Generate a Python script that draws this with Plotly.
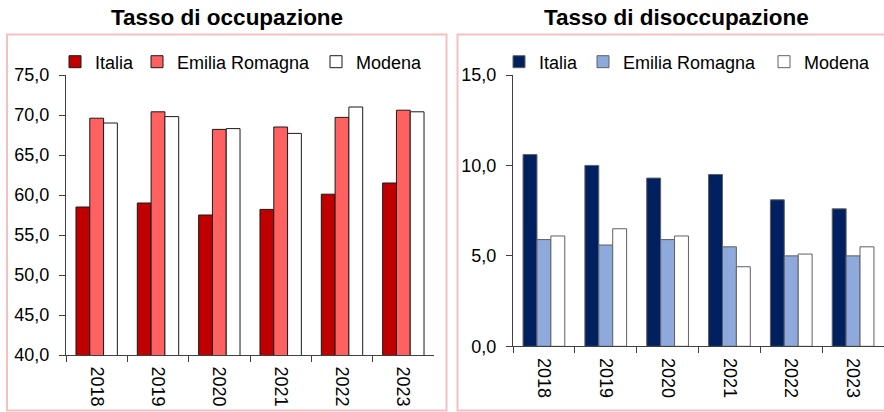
import plotly.graph_objects as go

years = ["2018", "2019", "2020", "2021", "2022", "2023"]
series_names = ["Italia", "Emilia Romagna", "Modena"]

occ_italia = [58.5, 59.0, 57.5, 58.2, 60.1, 61.5]
occ_emilia = [69.6, 70.4, 68.2, 68.5, 69.7, 70.6]
occ_modena = [69.0, 69.8, 68.3, 67.7, 71.0, 70.4]

dis_italia = [10.6, 10.0, 9.3, 9.5, 8.1, 7.6]
dis_emilia = [5.9, 5.6, 5.9, 5.5, 5.0, 5.0]
dis_modena = [6.1, 6.5, 6.1, 4.4, 5.1, 5.5]

title_left = "Tasso di occupazione"
title_right = "Tasso di disoccupazione"

W, H = 884, 412
FONT = "Liberation Sans, Arial, sans-serif"

def px(x):
    return x / W

def py(y):
    return 1 - y / H

left_colors = ["#C00000", "#FF6161", "#FFFFFF"]
right_colors = ["#002060", "#8EA9DB", "#FFFFFF"]
left_lw = [37, 134, 60]
right_lw = [39, 136, 60]

fig = go.Figure()

for name, vals, col, lw in zip(series_names, [occ_italia, occ_emilia, occ_modena], left_colors, left_lw):
    fig.add_trace(go.Bar(
        x=years, y=vals, name=name, marker=dict(color=col, line=dict(color="#1a1a1a", width=1)),
        xaxis="x", yaxis="y", legend="legend", legendwidth=lw, hoverinfo="x+y+name"))

for name, vals, col, lw in zip(series_names, [dis_italia, dis_emilia, dis_modena], right_colors, right_lw):
    fig.add_trace(go.Bar(
        x=years, y=vals, name=name, marker=dict(color=col, line=dict(color="#606060", width=1)),
        xaxis="x2", yaxis="y2", legend="legend2", legendwidth=lw, hoverinfo="x+y+name"))

axis_common = dict(
    showgrid=False, zeroline=False, showline=True, linecolor="#404040", linewidth=1,
    ticks="outside", ticklen=6, tickcolor="#404040", automargin=False,
    tickfont=dict(family=FONT, size=18, color="#000000"),
)

fig.update_layout(
    width=W, height=H,
    margin=dict(l=0, r=0, t=0, b=0),
    paper_bgcolor="white", plot_bgcolor="white",
    separators=", ",
    barmode="group", bargap=0.325, bargroupgap=0,
    font=dict(family=FONT, size=18, color="#000000"),
    xaxis=dict(domain=[px(66), px(434)], anchor="y", type="category", tickson="boundaries",
               tickangle=90, ticklabelstandoff=7, **axis_common),
    yaxis=dict(domain=[py(355), py(75)], anchor="x", range=[40, 75], dtick=5, tickformat=".1f",
               ticklabelstandoff=6, **axis_common),
    xaxis2=dict(domain=[px(513), px(884)], anchor="y2", type="category", tickson="boundaries",
                tickangle=90, ticklabelstandoff=7, **axis_common),
    yaxis2=dict(domain=[py(346.3), py(75)], anchor="x2", range=[0, 15], dtick=5, tickformat=".1f",
                ticklabelstandoff=6, **axis_common),
    legend=dict(orientation="h", x=px(55), xanchor="left", y=py(62), yanchor="middle",
                itemwidth=30, bgcolor="rgba(0,0,0,0)", borderwidth=0,
                font=dict(family=FONT, size=18, color="#000000"), traceorder="normal"),
    legend2=dict(orientation="h", x=px(499), xanchor="left", y=py(62), yanchor="middle",
                 itemwidth=30, bgcolor="rgba(0,0,0,0)", borderwidth=0,
                 font=dict(family=FONT, size=18, color="#000000"), traceorder="normal"),
    showlegend=True,
)

fig.add_shape(type="rect", xref="paper", yref="paper",
              x0=px(7), x1=px(446.5), y0=py(410.5), y1=py(34.5),
              line=dict(color="#F4C0C0", width=2), layer="below")
fig.add_shape(type="rect", xref="paper", yref="paper",
              x0=px(457.5), x1=px(890), y0=py(410.5), y1=py(34.5),
              line=dict(color="#F4C0C0", width=2), layer="below")

fig.add_annotation(text="<b>" + title_left + "</b>", xref="paper", yref="paper",
                   x=px(227), y=py(18), xanchor="center", yanchor="middle", showarrow=False,
                   font=dict(family=FONT, size=22.5, color="#000000"))
fig.add_annotation(text="<b>" + title_right + "</b>", xref="paper", yref="paper",
                   x=px(676), y=py(18), xanchor="center", yanchor="middle", showarrow=False,
                   font=dict(family=FONT, size=22.5, color="#000000"))

fig.write_html("out.html", config={"displayModeBar": False},
               post_script="document.body.style.margin='0';")
